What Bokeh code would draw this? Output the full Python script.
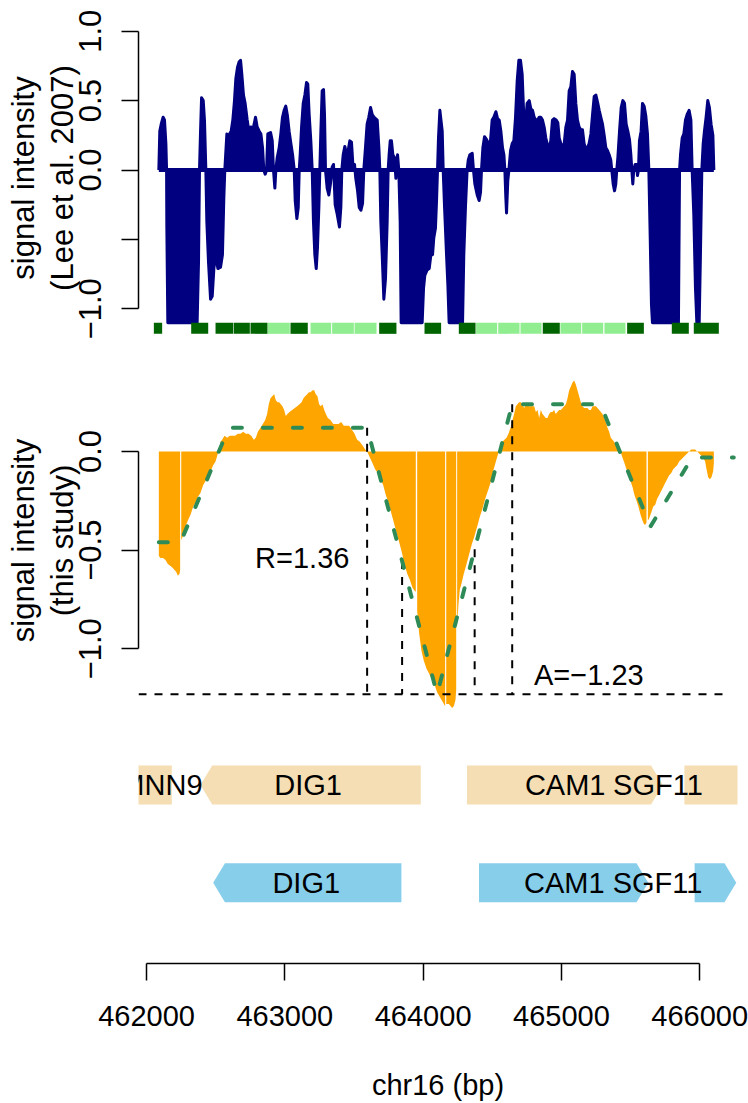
import numpy as np
from bokeh.plotting import figure
from bokeh.layouts import column
from bokeh.models import Range1d, FixedTicker, NumeralTickFormatter
from bokeh.embed import file_html
from bokeh.resources import INLINE
from bokeh.core.properties import value

NA = float("nan")

# ---------------- data: Lee et al. 2007 signal (top panel) ----------------
lee_pos = [
    462089, 462096, 462106, 462120, 462130, 462140, 462145, 462147, 462154, 462366,
    462376, 462383, 462390, 462398, 462410, 462419, 462429, 462436, 462448, 462463,
    462475, 462487, 462499, 462516, 462535, 462549, 462559, 462566, 462574, 462581,
    462590, 462600, 462612, 462624, 462636, 462646, 462658, 462670, 462680, 462689,
    462701, 462713, 462728, 462740, 462754, 462766, 462778, 462788, 462800, 462815,
    462827, 462839, 462848, 462858, 462868, 462877, 462897, 462909, 462918, 462928,
    462935, 462945, 462959, 462971, 462983, 462995, 463007, 463019, 463031, 463044,
    463056, 463068, 463075, 463087, 463097, 463104, 463111, 463121, 463133, 463145,
    463157, 463166, 463176, 463188, 463198, 463207, 463217, 463227, 463236, 463246,
    463253, 463260, 463270, 463280, 463287, 463294, 463306, 463318, 463330, 463342,
    463352, 463364, 463379, 463395, 463405, 463412, 463422, 463434, 463446, 463458,
    463470, 463482, 463492, 463504, 463513, 463526, 463538, 463550, 463562, 463571,
    463583, 463595, 463607, 463620, 463632, 463646, 463668, 463680, 463687, 463694,
    463704, 463716, 463728, 463740, 463747, 463754, 463762, 463771, 463781, 463793,
    463803, 463815, 463824, 463834, 463841, 463993, 464003, 464012, 464029, 464044,
    464056, 464068, 464077, 464089, 464097, 464104, 464111, 464121, 464138, 464145,
    464155, 464167, 464179, 464188, 464285, 464294, 464306, 464318, 464326, 464338,
    464355, 464364, 464374, 464391, 464405, 464415, 464422, 464432, 464444, 464458,
    464473, 464487, 464499, 464511, 464526, 464538, 464550, 464562, 464574, 464584,
    464591, 464598, 464603, 464612, 464620, 464632, 464644, 464656, 464668, 464680,
    464692, 464704, 464716, 464728, 464740, 464752, 464767, 464779, 464791, 464803,
    464815, 464827, 464839, 464851, 464863, 464875, 464887, 464899, 464911, 464923,
    464935, 464947, 464962, 464974, 464984, 464996, 465008, 465020, 465032, 465044,
    465056, 465068, 465080, 465092, 465104, 465116, 465128, 465140, 465152, 465164,
    465176, 465188, 465200, 465213, 465225, 465237, 465249, 465261, 465273, 465285,
    465297, 465309, 465321, 465333, 465345, 465357, 465364, 465374, 465384, 465393,
    465400, 465408, 465420, 465432, 465444, 465456, 465468, 465480, 465492, 465502,
    465509, 465516, 465523, 465533, 465543, 465550, 465557, 465564, 465576, 465586,
    465598, 465610, 465622, 465632, 465642, 465651, 465658, 465846, 465854, 465861,
    465873, 465885, 465897, 465909, 465923, 465936, 465945, 465957, 465969, 465979,
    465996, 466005, 466015, 466025, 466034, 466046, 466058, 466070, 466082, 466095,
    466102,
]
lee_signal = [
    0, 0.28, 0.33, 0.38, 0.36, 0.19, 0, -0.42, -1.10, -1.10,
    -0.66, 0, 0.26, 0.52, 0.50, 0.36, 0, -0.37, -0.66, -0.93,
    -0.91, -0.71, -0.61, -0.71, -0.70, -0.61, -0.20, 0, 0.14, 0.26,
    0.16, 0.26, 0.28, 0.36, 0.50, 0.66, 0.74, 0.78, 0.79, 0.69,
    0.54, 0.48, 0.36, 0.28, 0.31, 0.28, 0.33, 0.38, 0.31, 0.28,
    0.26, 0.16, 0, -0.03, 0, 0.26, 0.27, 0.21, 0, -0.13,
    0, 0.09, 0.16, 0.26, 0.38, 0.43, 0.46, 0.39, 0.28, 0.19,
    0.11, 0, -0.22, -0.35, -0.27, 0, 0.11, 0.31, 0.48, 0.54,
    0.63, 0.62, 0.40, 0.21, 0, -0.37, -0.61, -0.71, -0.56, -0.27,
    0, 0.26, 0.57, 0.58, 0.40, 0, -0.13, -0.18, -0.10, 0.02,
    0.04, -0.25, -0.32, -0.41, -0.27, 0, 0.11, 0.17, 0.11, 0.14,
    0.21, 0.20, 0.04, 0.04, -0.06, -0.15, -0.27, -0.29, -0.24, 0,
    0.16, 0.33, 0.38, 0.45, 0.40, 0.38, 0.36, 0.16, 0, -0.37,
    -0.61, -0.93, -0.78, -0.37, 0, 0.11, 0.21, 0.21, 0.11, 0.09,
    -0.06, 0.11, 0, -0.37, -1.10, -1.10, -0.85, -0.76, -0.72, -0.71,
    -0.61, -0.61, -0.49, -0.42, -0.22, 0, 0.23, 0.43, 0.28, 0,
    -0.27, -0.56, -0.83, -1.10, -1.10, -0.61, -0.27, 0, 0.07, 0.11,
    0.12, 0, -0.10, -0.18, -0.22, -0.16, 0, 0.16, 0.24, 0.22,
    0.19, 0.21, 0.36, 0.38, 0.42, 0.37, 0.36, 0.28, 0.16, 0.11,
    0, -0.20, -0.31, -0.08, 0, 0.14, 0.19, 0.21, 0.38, 0.64,
    0.79, 0.79, 0.69, 0.38, 0.33, 0.48, 0.50, 0.44, 0.43, 0.38,
    0.36, 0.36, 0.38, 0.38, 0.36, 0.31, 0.23, 0.18, 0.16, 0.21,
    0.36, 0.37, 0.36, 0.34, 0.23, 0.19, 0.16, 0.19, 0.31, 0.36,
    0.57, 0.60, 0.71, 0.69, 0.48, 0.36, 0.31, 0.29, 0.29, 0.19,
    0.15, 0.16, 0.19, 0.26, 0.40, 0.53, 0.54, 0.49, 0.43, 0.38,
    0.33, 0.25, 0.16, 0.14, 0.11, 0.07, 0, -0.10, -0.15, -0.10,
    0, 0.09, 0.28, 0.45, 0.50, 0.48, 0.33, 0.28, 0.22, 0.11,
    0, -0.10, 0, 0.04, 0.04, -0.04, 0, 0.21, 0.28, 0.48,
    0.46, 0.39, 0.26, 0, -0.49, -0.97, -1.10, -1.10, 0, 0.11,
    0.23, 0.26, 0.36, 0.40, 0.43, 0.36, 0, -0.32, -0.85, -1.10,
    -1.10, -0.61, 0, 0.19, 0.28, 0.38, 0.50, 0.45, 0.33, 0.25,
    0,
]

# probe tiles under the top panel
probe_start = [462053, 462323, 462499, 462631, 462752, 462877, 463041, 463186, 463342, 463504,
               463682, 464010, 464258, 464383, 464543, 464704, 464865, 464993, 465150, 465311,
               465475, 465798, 465957]
probe_end = [462113, 462446, 462627, 462747, 462875, 463036, 463166, 463335, 463499, 463663,
             463807, 464130, 464379, 464535, 464697, 464856, 464988, 465143, 465302, 465463,
             465596, 465921, 466138]
probe_class = ["dark", "dark", "dark", "dark", "dark", "light", "dark", "light", "light", "light",
               "dark", "dark", "dark", "light", "light", "light", "dark", "light", "light", "light",
               "dark", "dark", "dark"]

# ---------------- data: this study signal (middle panel), NaN = probe gap ----------------
study_pos = [
    462089, 462101, 462120, 462137, 462154, 462174, 462190, 462202, 462214, 462227, 462239, 462243,
    462247,
    462251, 462263, 462282, 462299, 462318, 462337, 462354, 462371, 462390, 462410,
    462427, 462443, 462463, 462482, 462499, 462516, 462525, 462535, 462547, 462564,
    462583, 462602, 462622, 462641, 462660, 462680, 462699, 462718, 462738, 462757,
    462776, 462790, 462805, 462824, 462841, 462858, 462872, 462884, 462896, 462909,
    462923, 462935, 462947, 462959, 462971, 462983, 462995, 463007, 463019, 463034,
    463053, 463072, 463089, 463106, 463121, 463135, 463147, 463162, 463174, 463186,
    463200, 463212, 463224, 463236, 463248, 463260, 463272, 463285, 463297, 463311,
    463330, 463350, 463369, 463388, 463407, 463427, 463446, 463465, 463485, 463504,
    463523, 463542, 463562, 463581, 463595, 463615, 463634, 463653, 463673, 463692,
    463711, 463730, 463750, 463769, 463788, 463807, 463827, 463846, 463865, 463885,
    463904, 463923, 463942, 463947,
    463952,
    463957, 463971, 463988, 464005, 464024, 464039, 464053, 464077, 464101, 464126, 464150, 464159,
    464163,
    464167, 464186, 464210, 464222, 464234, 464239,
    464242,
    464246, 464256, 464265, 464277, 464294, 464314, 464333, 464352, 464371, 464391,
    464410, 464429, 464449, 464468, 464487, 464506, 464526, 464543, 464550, 464560,
    464574, 464588, 464603, 464617, 464632, 464646, 464658, 464670, 464682, 464694,
    464706, 464718, 464730, 464743, 464755, 464767, 464779, 464791, 464803, 464815,
    464827, 464839, 464851, 464863, 464875, 464887, 464899, 464911, 464923, 464935,
    464947, 464959, 464971, 464984, 464996, 465008, 465020, 465032, 465044, 465056,
    465068, 465080, 465092, 465104, 465116, 465128, 465140, 465152, 465164, 465176,
    465188, 465200, 465213, 465225, 465237, 465249, 465261, 465273, 465285, 465297,
    465309, 465321, 465333, 465345, 465357, 465369, 465381, 465393, 465405, 465417,
    465427, 465441, 465456, 465470, 465485, 465499, 465514, 465528, 465543, 465557,
    465572, 465586, 465598, 465608, 465615,
    465620,
    465625, 465634, 465649, 465663, 465678, 465692, 465707, 465721, 465736, 465750,
    465764, 465779, 465793, 465808, 465822, 465837, 465851, 465866, 465880, 465894,
    465909, 465923, 465938, 465952, 465967, 465981, 465996, 466010, 466025, 466039,
    466049, 466061, 466073, 466085, 466097, 466102,
]
study_signal = [
    -0.53, -0.54, -0.54, -0.55, -0.57, -0.58, -0.59, -0.60, -0.61, -0.63, -0.62, -0.60,
    NA,
    -0.45, -0.43, -0.38, -0.35, -0.32, -0.28, -0.26, -0.23, -0.21, -0.17,
    -0.15, -0.12, -0.10, -0.07, -0.05, -0.01, 0, 0.05, 0.06, 0.08,
    0.07, 0.08, 0.08, 0.08, 0.09, 0.09, 0.10, 0.09, 0.09, 0.08,
    0.06, 0.07, 0.10, 0.12, 0.14, 0.16, 0.19, 0.24, 0.27, 0.28,
    0.29, 0.26, 0.25, 0.25, 0.24, 0.23, 0.21, 0.18, 0.19, 0.20,
    0.21, 0.22, 0.23, 0.24, 0.25, 0.27, 0.28, 0.29, 0.30, 0.30,
    0.31, 0.31, 0.29, 0.28, 0.24, 0.23, 0.24, 0.21, 0.19, 0.17,
    0.16, 0.14, 0.14, 0.14, 0.15, 0.13, 0.13, 0.13, 0.11, 0.09,
    0.06, 0.05, 0.03, 0.01, 0, -0.03, -0.06, -0.09, -0.11, -0.14,
    -0.17, -0.22, -0.26, -0.31, -0.36, -0.41, -0.46, -0.51, -0.57, -0.62,
    -0.65, -0.69, -0.71, -0.71,
    NA,
    -0.81, -0.92, -1.01, -1.06, -1.10, -1.12, -1.14, -1.17, -1.22, -1.25, -1.28, -1.29,
    NA,
    -1.28, -1.28, -1.30, -1.29, -1.26, -1.21,
    NA,
    -0.89, -0.77, -0.70, -0.67, -0.62, -0.57, -0.52, -0.47, -0.43, -0.38,
    -0.33, -0.29, -0.24, -0.20, -0.16, -0.10, -0.05, -0.01, 0, 0.02,
    0.05, 0.06, 0.07, 0.09, 0.12, 0.16, 0.19, 0.23, 0.24, 0.25,
    0.25, 0.24, 0.22, 0.24, 0.24, 0.23, 0.23, 0.23, 0.23, 0.20,
    0.21, 0.17, 0.21, 0.19, 0.18, 0.17, 0.17, 0.19, 0.20, 0.20,
    0.21, 0.19, 0.20, 0.21, 0.21, 0.22, 0.23, 0.24, 0.27, 0.31,
    0.33, 0.35, 0.36, 0.34, 0.31, 0.28, 0.25, 0.23, 0.22, 0.22,
    0.22, 0.21, 0.21, 0.23, 0.23, 0.23, 0.22, 0.21, 0.20, 0.19,
    0.17, 0.15, 0.12, 0.10, 0.07, 0.06, 0.05, 0.03, 0.02, 0.01,
    0, -0.03, -0.06, -0.09, -0.11, -0.15, -0.18, -0.22, -0.25, -0.28,
    -0.32, -0.35, -0.37, -0.37, -0.36,
    NA,
    -0.35, -0.34, -0.31, -0.28, -0.27, -0.24, -0.22, -0.20, -0.18, -0.16,
    -0.14, -0.12, -0.11, -0.09, -0.08, -0.07, -0.05, -0.04, -0.03, -0.02,
    -0.01, 0.00, 0.01, 0.01, 0.01, 0.00, -0.01, -0.02, -0.03, -0.05,
    -0.09, -0.13, -0.14, -0.13, -0.10, -0.06,
]

# segmentation fit (green dashed)
fit_pos = [462089, 462246, 462595, 463595, 464101, 464644, 465282, 465644, 465945, 466246]
fit_signal = [-0.46, -0.46, 0.12, 0.12, -1.23, 0.24, 0.24, -0.38, -0.03, -0.03]
trough_level = -1.23
trough_line_end = 466190
annot_text = ["R=1.36", "A=\u22121.23"]
annot_x = [463126, 465198]
annot_y = [-0.54, -1.135]

# gene annotations
genes1_name = ["MNN9", "DIG1", "CAM1", "SGF11"]
genes1_start = [461600, 462390, 464317, 465889]
genes1_end = [462183, 463983, 465733, 466600]
genes1_strand = ["-", "-", "+", "+"]
genes1_label_x = [462108, 463168, 465027, 465698]

genes2_name = ["DIG1", "CAM1", "SGF11"]
genes2_start = [462482, 464404, 465963]
genes2_end = [463843, 465628, 466264]
genes2_strand = ["-", "+", "+"]
genes2_label_x = [463155, 465021, 465695]

x_ticks = [462000, 463000, 464000, 465000, 466000]
x_label = "chr16 (bp)"
y1_label = "signal intensity\n(Lee et al. 2007)"
y2_label = "signal intensity\n(this study)"

assert len(lee_pos) == len(lee_signal)
assert len(study_pos) == len(study_signal)
assert len(probe_start) == len(probe_end) == len(probe_class)

# ---------------- styling ----------------
FONT = "Liberation Sans"
FS = "29px"
FSY = "31px"
XLIM = (461942, 466273)
x_range = Range1d(*XLIM)
W = 748


def make_fig(height, y_range, top, bottom, xaxis, yaxis):
    p = figure(width=W, height=height, x_range=x_range, y_range=y_range,
               output_backend="svg", toolbar_location=None,
               x_axis_location="below" if xaxis else None,
               y_axis_location="left" if yaxis else None,
               min_border_left=138, min_border_right=11,
               min_border_top=top, min_border_bottom=bottom)
    p.grid.visible = False
    p.outline_line_color = None
    p.background_fill_color = "white"
    p.border_fill_color = "white"
    return p


def style_axis(ax, fs):
    ax.axis_line_width = 1.5
    ax.axis_line_color = "black"
    ax.major_tick_line_width = 1.5
    ax.major_tick_line_color = "black"
    ax.major_tick_out = 17
    ax.major_tick_in = 0
    ax.minor_tick_line_color = None
    ax.major_label_text_font = FONT
    ax.major_label_text_font_size = fs
    ax.major_label_text_color = "black"
    ax.axis_label_text_font = FONT
    ax.axis_label_text_font_size = fs
    ax.axis_label_text_font_style = "normal"
    ax.axis_label_text_color = "black"


def style_yaxis(ax, ticks, bounds, overrides, label):
    style_axis(ax, FSY)
    ax.ticker = FixedTicker(ticks=ticks)
    ax.bounds = bounds
    ax.major_label_overrides = overrides
    ax.major_label_orientation = "parallel"
    ax.major_label_standoff = 20
    ax.axis_label = label
    ax.axis_label_text_line_height = 1.1
    ax.axis_label_standoff = -3


# ---------------- top panel ----------------
p1 = make_fig(340, Range1d(-1.228, 1.113), 15, 0, False, True)
style_yaxis(p1.yaxis[0], [-1, -0.5, 0, 0.5, 1], (-1, 1),
            {-1: "\u22121.0", -0.5: "", 0: "0.0", 0.5: "0.5", 1: "1.0"}, y1_label)

p1.varea(x=lee_pos, y1=0, y2=lee_signal, fill_color="navy")
p1.line(lee_pos, lee_signal, line_color="navy", line_width=3, line_join="round")
p1.segment(x0=[lee_pos[0]], y0=[0], x1=[lee_pos[-1]], y1=[0], line_color="navy", line_width=4)
tile_colors = ["#006400" if c == "dark" else "#90EE90" for c in probe_class]
p1.quad(left=probe_start, right=probe_end, bottom=-1.18, top=-1.10,
        fill_color=tile_colors, line_color=None)

# ---------------- middle panel ----------------
p2 = make_fig(380, Range1d(-1.338, 0.436), 25, 5, False, True)
style_yaxis(p2.yaxis[0], [-1, -0.5, 0], (-1, 0),
            {-1: "\u22121.0", -0.5: "\u22120.5", 0: "0.0"}, y2_label)

sp = np.array(study_pos, dtype=float)
ss = np.array(study_signal, dtype=float)
gap_idx = np.where(np.isnan(ss))[0]
for chunk in np.split(np.arange(len(ss)), gap_idx):
    chunk = chunk[~np.isnan(ss[chunk])]
    if len(chunk) > 1:
        p2.varea(x=sp[chunk], y1=0, y2=ss[chunk], fill_color="orange")

# dashed guide lines derived from the fit
outer_x = [fit_pos[3], fit_pos[5]]
outer_top = [fit_signal[3], fit_signal[5]]
inner_x = [(fit_pos[3] + fit_pos[4]) / 2, (fit_pos[4] + fit_pos[5]) / 2]
inner_top = [(fit_signal[3] + fit_signal[4]) / 2, (fit_signal[4] + fit_signal[5]) / 2]
vx = outer_x + inner_x
vtop = outer_top + inner_top
p2.segment(x0=vx, y0=vtop, x1=vx, y1=[trough_level] * 4,
           line_color="black", line_width=2, line_dash="8 8")
p2.segment(x0=[XLIM[0]], y0=[trough_level], x1=[trough_line_end], y1=[trough_level],
           line_color="black", line_width=2, line_dash="8 8")
p2.line(fit_pos, fit_signal, line_color="#2E8B57", line_width=4,
        line_dash="9 21", line_cap="round")
p2.text(x=annot_x, y=annot_y, text=annot_text, text_font=value(FONT),
        text_font_size=FS, text_align="center", text_baseline="middle", text_color="black")

# ---------------- gene panel with x axis ----------------
p3 = make_fig(383, Range1d(0, 1), 5, 139, True, False)
ax = p3.xaxis[0]
style_axis(ax, FS)
ax.ticker = FixedTicker(ticks=x_ticks)
ax.bounds = (x_ticks[0], x_ticks[-1])
ax.formatter = NumeralTickFormatter(format="0")
ax.major_label_standoff = 25
ax.axis_label = x_label
ax.axis_label_standoff = 40

HEAD = 85
HALF = 0.082


def arrow_shape(start, end, strand, yc):
    if strand == "+":
        xs = [start, end - HEAD, end, end - HEAD, start]
        ys = [yc - HALF, yc - HALF, yc, yc + HALF, yc + HALF]
    else:
        xs = [start, start + HEAD, end, end, start + HEAD]
        ys = [yc, yc - HALF, yc - HALF, yc + HALF, yc + HALF]
    return xs, ys


for names, starts, ends, strands, lab_x, yc, col in [
    (genes1_name, genes1_start, genes1_end, genes1_strand, genes1_label_x, 0.750, "#F5DEB3"),
    (genes2_name, genes2_start, genes2_end, genes2_strand, genes2_label_x, 0.339, "#87CEEB"),
]:
    xs_all, ys_all = [], []
    for s, e, st in zip(starts, ends, strands):
        xs, ys = arrow_shape(s, e, st, yc)
        xs_all.append(xs)
        ys_all.append(ys)
    p3.patches(xs_all, ys_all, fill_color=col, line_color=None)
    p3.text(x=lab_x, y=[yc] * len(names), text=names, text_font=value(FONT),
            text_font_size=FS, text_align="center", text_baseline="middle", text_color="black")

layout = column(p1, p2, p3)
open("out.html", "w").write(file_html(layout, INLINE, "signal"))
